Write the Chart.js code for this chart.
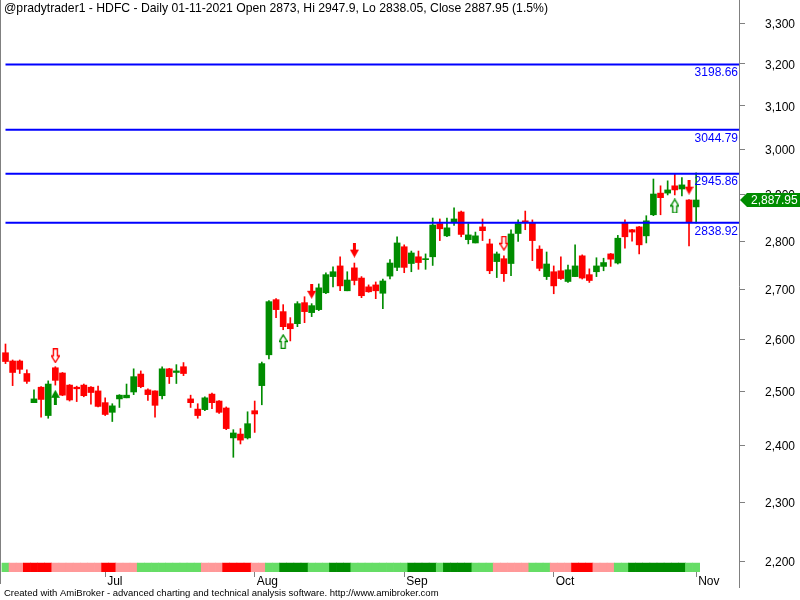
<!DOCTYPE html>
<html><head><meta charset="utf-8">
<script src="https://cdn.jsdelivr.net/npm/chart.js@4.4.0/dist/chart.umd.min.js"></script>
<style>html,body{margin:0;padding:0;background:#fff}canvas{display:block}</style>
</head><body>
<canvas id="c" width="800" height="600"></canvas>
<script>
const titleText = '@pradytrader1 - HDFC - Daily 01-11-2021 Open 2873, Hi 2947.9, Lo 2838.05, Close 2887.95 (1.5%)';
const footerText = 'Created with AmiBroker - advanced charting and technical analysis software. http://www.amibroker.com';

// Daily bars, 11-Jun-2021 .. 01-Nov-2021 (index 0..97)
const opens = [2574,2558,2558,2534,2479,2508,2455,2545,2535,2512,2508,2512,2508,2501,2479,2461,2486,2488,2499,2533,
  2503,2501,2492,2543,2536,2547,2486,2467,2466,2495,2482,2469,2414,2421,2414,2464,2511,2570,2679,2655,
  2631,2631,2673,2653,2659,2693,2726,2748,2697,2744,2723,2705,2709,2692,2727,2745,2788,2753,2767,2761,
  2767,2837,2811,2839,2862,2803,2796,2830,2794,2757,2763,2753,2816,2843,2839,2783,2726,2736,2738,2716,
  2726,2769,2730,2736,2747,2773,2754,2839,2824,2830,2811,2856,2903,2903,2919,2912,2888,2873];
const highs = [2591,2560,2560,2541,2503,2509,2520,2547,2536,2513,2510,2514,2509,2510,2488,2477,2494,2514,2543,2539,
  2505,2501,2547,2544,2551,2555,2493,2477,2490,2497,2483,2471,2429,2431,2462,2482,2556,2677,2681,2669,
  2643,2675,2685,2671,2711,2734,2746,2767,2736,2754,2726,2709,2715,2721,2761,2809,2792,2779,2779,2773,
  2849,2847,2849,2871,2864,2837,2819,2847,2804,2777,2769,2824,2845,2864,2845,2790,2777,2748,2767,2750,
  2792,2771,2742,2765,2764,2774,2812,2845,2825,2831,2854,2934,2919,2930,2946,2937,2889,2947.9];
const lows = [2553,2511,2534,2515,2479,2452,2450,2512,2492,2482,2481,2490,2476,2471,2455,2444,2470,2488,2494,2507,
  2483,2452,2486,2515,2515,2530,2470,2450,2464,2468,2459,2429,2379,2403,2412,2424,2475,2562,2643,2619,
  2597,2625,2633,2645,2657,2691,2705,2697,2697,2709,2683,2694,2681,2661,2721,2738,2734,2736,2741,2741,
  2749,2801,2809,2833,2809,2794,2796,2801,2732,2724,2716,2728,2799,2824,2759,2738,2720,2691,2720,2714,
  2726,2721,2714,2726,2738,2747,2752,2785,2800,2773,2796,2854,2856,2899,2899,2897,2790,2838.05];
const closes = [2557,2536,2542,2519,2486,2485,2514,2521,2493,2484,2505,2492,2498,2472,2457,2473,2493,2493,2528,2509,
  2494,2474,2543,2528,2539,2534,2479,2455,2488,2479,2461,2431,2423,2410,2440,2458,2553,2675,2659,2625,
  2621,2671,2655,2667,2703,2730,2736,2707,2719,2718,2687,2695,2697,2717,2754,2796,2745,2775,2755,2763,
  2834,2826,2828,2847,2814,2813,2811,2822,2738,2773,2732,2815,2837,2839,2801,2743,2752,2707,2722,2740,
  2748,2723,2718,2748,2755,2762,2806,2809,2819,2792,2843,2901,2893,2910,2910,2921,2841,2887.95];

// trend ribbon state per bar: LG light green, DG dark green, P pink, R red
const trendState = ['LG','P','P','R','R','R','R','P','P','P','P','P','P','P','R','R','P','P','P','LG',
  'LG','LG','LG','LG','LG','LG','LG','LG','P','P','P','R','R','R','R','P','P','LG','LG','DG',
  'DG','DG','DG','LG','LG','LG','DG','DG','DG','LG','LG','LG','LG','LG','LG','LG','LG','DG','DG','DG',
  'DG','LG','DG','DG','DG','DG','LG','LG','LG','P','P','P','P','P','LG','LG','LG','P','P','P',
  'R','R','R','P','P','P','LG','LG','DG','DG','DG','DG','DG','DG','DG','DG','LG','LG'];

const monthTickIndex = [14, 35, 56, 77, 97];
const monthTickLabels = ['Jul', 'Aug', 'Sep', 'Oct', 'Nov'];
const priceTicks = [2200, 2300, 2400, 2500, 2600, 2700, 2800, 2900, 3000, 3100, 3200, 3300];
const levels = [3198.66, 3044.79, 2945.86, 2838.92];

const sellFilledIdx = [43, 49, 96];
const sellFilledVal = [2696, 2781, 2916];
const sellHollowIdx = [7, 70];
const sellHollowVal = [2568, 2795];
const buyFilledIdx = [7];
const buyFilledVal = [2489];
const buyHollowIdx = [39, 94];
const buyHollowVal = [2596, 2875];

// ---- styling / layout ----
const GREEN = 'rgb(0,140,0)', RED = '#ff0000';
const ribbonColors = {LG: '#66dd66', DG: '#008c00', P: '#ff9999', R: '#ff0000'};
const X_MIN = -0.772, X_MAX = 103.02;
const Y_MIN = 2182, Y_MAX = 3357.7, RIBBON_TOP = 2196.7;
const FONT = '"Liberation Sans", Arial, sans-serif';

function makeArrow(color, filled, up) {
  const c = document.createElement('canvas');
  c.width = 9; c.height = 15;
  const g = c.getContext('2d');
  if (up) { g.translate(0, 15); g.scale(1, -1); }
  g.beginPath();
  if (filled) {
    g.moveTo(3, 0); g.lineTo(6, 0); g.lineTo(6, 7); g.lineTo(9, 7);
    g.lineTo(4.5, 15); g.lineTo(0, 7); g.lineTo(3, 7); g.closePath();
    g.fillStyle = color; g.fill();
  } else {
    g.moveTo(2.5, 0.5); g.lineTo(6.5, 0.5); g.lineTo(6.5, 7.5); g.lineTo(8.5, 7.5);
    g.lineTo(4.5, 14); g.lineTo(0.5, 7.5); g.lineTo(2.5, 7.5); g.closePath();
    g.fillStyle = '#fff'; g.fill();
    g.strokeStyle = color; g.lineWidth = 1.4; g.stroke();
  }
  return c;
}

const idx = opens.map((_, i) => i);
const candleColors = idx.map(i => closes[i] >= opens[i] ? GREEN : RED);

const pts = (ix, vals) => ix.map((i, k) => ({x: i, y: vals[k]}));

const datasets = [
  {type: 'scatter', data: pts(sellFilledIdx, sellFilledVal), pointStyle: makeArrow(RED, true, false), pointRadius: 5, order: 0},
  {type: 'scatter', data: pts(sellHollowIdx, sellHollowVal), pointStyle: makeArrow(RED, false, false), pointRadius: 5, order: 0},
  {type: 'scatter', data: pts(buyFilledIdx, buyFilledVal), pointStyle: makeArrow(GREEN, true, true), pointRadius: 5, order: 0},
  {type: 'scatter', data: pts(buyHollowIdx, buyHollowVal), pointStyle: makeArrow(GREEN, false, true), pointRadius: 5, order: 0},
  ...levels.map(v => ({type: 'line', data: [{x: 0, y: v}, {x: X_MAX, y: v}], borderColor: '#0000ff', borderWidth: 2, pointRadius: 0, order: 1})),
  {type: 'bar', data: idx.map(i => ({x: i, y: [opens[i], closes[i]]})), backgroundColor: candleColors, barThickness: 6, minBarLength: 1, grouped: false, order: 2},
  {type: 'bar', data: idx.map(i => ({x: i, y: [lows[i], highs[i]]})), backgroundColor: candleColors, barThickness: 1, grouped: false, order: 3},
  {type: 'bar', data: idx.map(i => ({x: i, y: [Y_MIN, RIBBON_TOP]})), backgroundColor: trendState.map(s => ribbonColors[s]), barPercentage: 1, categoryPercentage: 1, grouped: false, order: 4}
];

const overlay = {
  id: 'overlay',
  afterDraw(chart) {
    const {ctx, chartArea: a, scales: {y}} = chart;
    ctx.save();
    ctx.strokeStyle = '#808080'; ctx.lineWidth = 1;
    ctx.beginPath(); ctx.moveTo(0.5, 0); ctx.lineTo(0.5, 584); ctx.stroke();
    ctx.beginPath(); ctx.moveTo(Math.round(a.right) + 0.5, a.bottom); ctx.lineTo(Math.round(a.right) + 0.5, 588); ctx.stroke();
    ctx.fillStyle = '#000'; ctx.textAlign = 'left'; ctx.textBaseline = 'middle';
    ctx.font = '12.2px ' + FONT;
    ctx.fillText(titleText, 4, 9);
    ctx.font = '9.5px ' + FONT;
    ctx.fillText(footerText, 4, 593);
    ctx.fillStyle = '#0000ff'; ctx.font = '12px ' + FONT; ctx.textAlign = 'right';
    levels.forEach(v => ctx.fillText(v.toFixed(2), a.right - 1, y.getPixelForValue(v) + 8.5));
    const last = closes[closes.length - 1];
    const py = Math.round(y.getPixelForValue(last));
    const lx = Math.round(a.right) + 1;
    ctx.beginPath();
    ctx.moveTo(lx, py); ctx.lineTo(lx + 7, py - 7); ctx.lineTo(800, py - 7); ctx.lineTo(800, py + 7); ctx.lineTo(lx + 7, py + 7); ctx.closePath();
    ctx.fillStyle = GREEN; ctx.fill();
    ctx.fillStyle = '#fff'; ctx.textAlign = 'left';
    ctx.fillText(last.toLocaleString('en-US', {minimumFractionDigits: 2}), lx + 11, py + 0.5);
    ctx.restore();
  }
};

new Chart(document.getElementById('c'), {
  type: 'bar',
  data: {datasets},
  plugins: [overlay],
  options: {
    responsive: false, animation: false,
    layout: {padding: 0, autoPadding: false},
    plugins: {legend: {display: false}, tooltip: {enabled: false}, title: {display: false}},
    scales: {
      x: {
        type: 'linear', min: X_MIN, max: X_MAX, offset: false, bounds: 'data',
        grid: {display: true, drawOnChartArea: false, drawTicks: true, tickLength: 5, color: '#808080', offset: false},
        border: {display: false},
        ticks: {autoSkip: false, maxRotation: 0, align: 'start', labelOffset: 2, padding: -3, color: '#000', font: {family: FONT, size: 12},
          callback: v => monthTickLabels[monthTickIndex.indexOf(v)] || ''},
        afterBuildTicks: s => { s.ticks = monthTickIndex.map(v => ({value: v})); },
        afterFit: s => { s.height = 28; s.paddingLeft = 0; s.paddingRight = 0; }
      },
      y: {
        type: 'logarithmic', position: 'right', min: Y_MIN, max: Y_MAX, bounds: 'data',
        grid: {display: true, drawOnChartArea: false, drawTicks: true, tickLength: 6, color: '#808080'},
        border: {display: true, color: '#808080', width: 1},
        ticks: {autoSkip: false, padding: 20, labelOffset: 1.5, color: '#000', font: {family: FONT, size: 12},
          callback: v => Number(v).toLocaleString('en-US')},
        afterBuildTicks: s => { s.ticks = priceTicks.map(v => ({value: v})); },
        afterFit: s => { s.width = 61; s.paddingTop = 0; s.paddingBottom = 0; }
      }
    }
  }
});
</script>
</body></html>
